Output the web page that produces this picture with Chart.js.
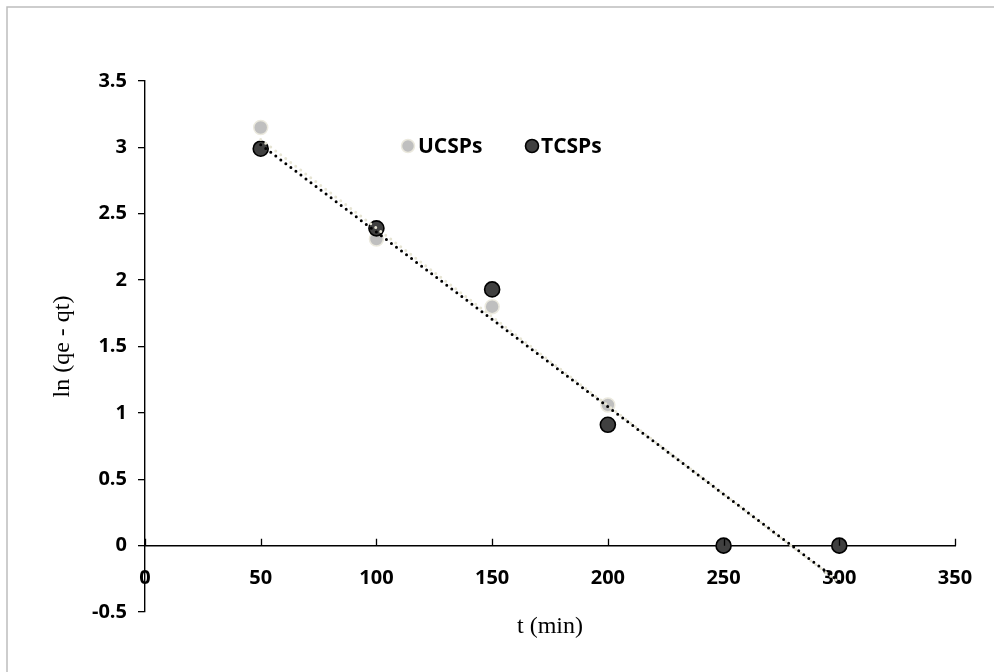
<!DOCTYPE html>
<html>
<head>
<meta charset="utf-8">
<script src="https://cdn.jsdelivr.net/npm/chart.js@4.4.1/dist/chart.umd.min.js"></script>
<style>
  html, body { margin: 0; padding: 0; background: #ffffff; }
  #wrap { position: relative; width: 994px; height: 672px; overflow: hidden; }
  canvas { display: block; }
</style>
</head>
<body>
<div id="wrap"><canvas id="c" width="994" height="672"></canvas></div>
<script>
// ---- data ----
const timeValues = [50, 100, 150, 200, 250, 300];
const ucspsValues = [3.15, 2.31, 1.80, 1.06, 0, 0];
const tcspsValues = [2.99, 2.39, 1.93, 0.91, 0, 0];
const trendTimes = [50, 300];
const ucspsTrend = [3.06, -0.28];
const tcspsTrend = [3.02, -0.27];
const seriesNames = ['UCSPs', 'TCSPs'];
const xTitle = 't (min)';
const yTitle = 'ln (qe - qt)';

const pts = (xs, ys) => xs.map((x, i) => ({ x: x, y: ys[i] }));

const tickFont = { family: "'Open Sans', 'Liberation Sans', sans-serif", size: 20, weight: 'bold' };
const titleFont = { family: "'Liberation Serif', 'DejaVu Serif', serif", size: 24, weight: 'normal' };

// Outer frame (top and left edges visible)
const framePlugin = {
  id: 'frame',
  beforeDraw(chart) {
    const ctx = chart.ctx;
    ctx.save();
    ctx.fillStyle = '#ffffff';
    ctx.fillRect(0, 0, chart.width, chart.height);
    ctx.strokeStyle = '#bdbdbd';
    ctx.lineWidth = 1.5;
    ctx.beginPath();
    ctx.moveTo(7, chart.height + 2);
    ctx.lineTo(7, 7);
    ctx.lineTo(chart.width + 2, 7);
    ctx.stroke();
    ctx.restore();
  }
};

// Upward tick marks on the x axis (drawn at the scale's tick positions)
const xTickPlugin = {
  id: 'xTicksUp',
  afterDraw(chart) {
    const xs = chart.scales.x, ys = chart.scales.y;
    const y0 = ys.getPixelForValue(0);
    const ctx = chart.ctx;
    ctx.save();
    ctx.strokeStyle = '#000000';
    ctx.lineWidth = 1.3;
    ctx.beginPath();
    xs.ticks.forEach(t => {
      const px = Math.round(xs.getPixelForValue(t.value)) + 0.5;
      ctx.moveTo(px, y0);
      ctx.lineTo(px, y0 - 7);
    });
    ctx.stroke();
    ctx.restore();
  }
};

// Legend drawn inside the plot area
const innerLegend = {
  id: 'innerLegend',
  afterDraw(chart) {
    const ctx = chart.ctx;
    const items = [
      { ds: chart.data.datasets[2], mx: 408, tx: 418 },
      { ds: chart.data.datasets[3], mx: 532, tx: 541 }
    ];
    const cy = 146;
    ctx.save();
    items.forEach(it => {
      ctx.beginPath();
      ctx.arc(it.mx, cy, 6.5, 0, Math.PI * 2);
      ctx.fillStyle = it.ds.backgroundColor;
      ctx.fill();
      ctx.lineWidth = it.ds.borderWidth;
      ctx.strokeStyle = it.ds.borderColor;
      ctx.stroke();
      ctx.fillStyle = '#000000';
      ctx.font = 'bold 21px ' + tickFont.family;
      ctx.textAlign = 'left';
      ctx.textBaseline = 'middle';
      ctx.fillText(it.ds.label, it.tx, cy + 1);
    });
    ctx.restore();
  }
};

new Chart(document.getElementById('c'), {
  type: 'scatter',
  data: {
    datasets: [
      {
        label: seriesNames[1] + ' trend',
        type: 'line',
        data: pts(trendTimes, tcspsTrend),
        borderColor: '#000000',
        borderWidth: 3,
        borderDash: [0, 6.3],
        borderCapStyle: 'round',
        pointRadius: 0,
        fill: false,
        order: 0
      },
      {
        label: seriesNames[0] + ' trend',
        type: 'line',
        data: pts(trendTimes, ucspsTrend),
        borderColor: '#e6e4d4',
        borderWidth: 3,
        borderDash: [0, 6.3],
        borderCapStyle: 'round',
        pointRadius: 0,
        fill: false,
        order: 1
      },
      {
        label: seriesNames[0],
        data: pts(timeValues, ucspsValues),
        backgroundColor: '#bfbfbf',
        borderColor: '#ebe9de',
        borderWidth: 1.5,
        pointRadius: 7,
        order: 3
      },
      {
        label: seriesNames[1],
        data: pts(timeValues, tcspsValues),
        backgroundColor: '#404040',
        borderColor: '#000000',
        borderWidth: 1.6,
        pointRadius: 7.5,
        order: 2
      }
    ]
  },
  options: {
    responsive: false,
    devicePixelRatio: 1,
    animation: false,
    layout: { padding: { left: 0, right: 39, top: 81, bottom: 60 } },
    plugins: {
      legend: { display: false },
      tooltip: { enabled: false },
      title: { display: false }
    },
    scales: {
      x: {
        type: 'linear',
        position: { y: 0 },
        min: 0,
        max: 350,
        ticks: {
          stepSize: 50,
          color: '#000000',
          font: tickFont,
          padding: 21,
          maxRotation: 0
        },
        grid: { display: false, drawTicks: false },
        border: { display: true, color: '#000000', width: 1.4 },
        title: {
          display: true,
          text: xTitle,
          color: '#000000',
          font: titleFont,
          padding: { top: 1, bottom: 0 }
        }
      },
      y: {
        type: 'linear',
        position: 'left',
        min: -0.5,
        max: 3.5,
        afterFit(scale) { scale.width = 145; },
        ticks: {
          stepSize: 0.5,
          color: '#000000',
          font: tickFont,
          padding: 11,
          callback: (v) => String(Math.round(v * 10) / 10)
        },
        grid: {
          display: true,
          drawOnChartArea: false,
          drawTicks: true,
          tickLength: 7,
          color: '#000000',
          lineWidth: 1.3
        },
        border: { display: true, color: '#000000', width: 1.4 },
        title: {
          display: true,
          text: yTitle,
          color: '#000000',
          font: titleFont,
          padding: { top: 48, bottom: 0 }
        }
      }
    }
  },
  plugins: [framePlugin, xTickPlugin, innerLegend]
});
</script>
</body>
</html>
